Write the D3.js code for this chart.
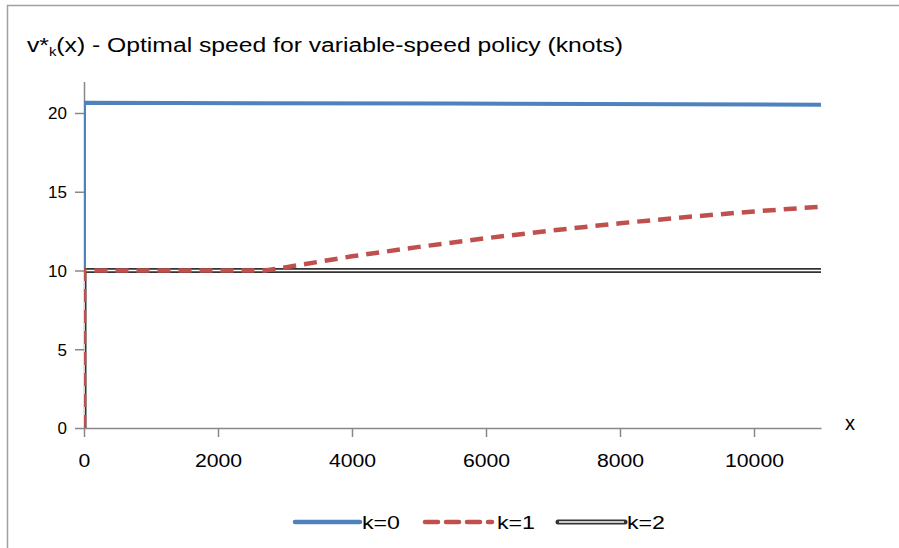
<!DOCTYPE html>
<html>
<head>
<meta charset="utf-8">
<script src="https://cdn.jsdelivr.net/npm/d3@7"></script>
<style>
  html, body { margin: 0; padding: 0; background: #fff; }
  svg { display: block; font-family: "Liberation Sans", Arial, sans-serif; }
</style>
</head>
<body>
<svg id="chart" width="899" height="548"></svg>
<script>
// ---- data ----
const seriesNames = ["k=0", "k=1", "k=2"];
const k0X = [0, 0, 5500, 11000];
const k0Y = [0, 20.65, 20.6, 20.52];
const k1X = [0, 0, 1000, 2000, 2700, 3000, 4000, 5000, 6000, 7000, 8000, 9000, 10000, 11000];
const k1Y = [0, 10, 10, 10, 10, 10.2, 10.9, 11.5, 12.05, 12.55, 13.0, 13.4, 13.75, 14.05];
const k2X = [0, 0, 11000];
const k2Y = [0, 10, 10];
const xTicks = [0, 2000, 4000, 6000, 8000, 10000];
const yTicks = [0, 5, 10, 15, 20];
const xAxisLabel = "x";

// ---- layout ----
const svg = d3.select("#chart");
const x = d3.scaleLinear().domain([0, 11000]).range([84, 821]);
const y = d3.scaleLinear().domain([0, 22]).range([428, 81.5]);

// outer border
svg.append("rect").attr("x", 7.5).attr("y", 5.5).attr("width", 1000).attr("height", 1000)
  .attr("fill", "none").attr("stroke", "#a0a0a0").attr("stroke-width", 1.5);

// title
const t = svg.append("text").attr("x", 27).attr("y", 52).attr("font-size", 20).attr("fill", "#000")
  .attr("textLength", 596).attr("lengthAdjust", "spacingAndGlyphs");
t.append("tspan").text("v*");
t.append("tspan").attr("font-size", 12).attr("dy", 4).text("k");
t.append("tspan").attr("dy", -4).text("(x) - Optimal speed for variable-speed policy (knots)");

// clip for plot area
svg.append("defs").append("clipPath").attr("id", "plotclip").append("rect")
  .attr("x", x(0)).attr("y", y(22) - 5).attr("width", x(11000) - x(0) + 5).attr("height", y(0) - y(22) + 5);

// axes
const axisColor = "#888";
const gx = svg.append("g").attr("transform", `translate(0,${y(0)})`)
  .call(d3.axisBottom(x).tickValues(xTicks).tickSize(9).tickSizeOuter(0).tickFormat(d3.format("d")));
const gy = svg.append("g").attr("transform", `translate(${x(0)},0)`)
  .call(d3.axisLeft(y).tickValues(yTicks).tickSize(9).tickSizeOuter(0));
[gx, gy].forEach(g => {
  g.select(".domain").attr("stroke", axisColor).attr("stroke-width", 1.5);
  g.selectAll(".tick line").attr("stroke", axisColor).attr("stroke-width", 1.5);
  g.selectAll(".tick text").attr("fill", "#000").attr("font-size", 17)
    .attr("font-family", "'Liberation Sans', Arial, sans-serif");
});
gx.selectAll(".tick text").attr("font-size", 18).attr("dy", "1.5em")
  .attr("textLength", d => String(d).length * 11.8).attr("lengthAdjust", "spacingAndGlyphs");
gy.selectAll(".tick text").attr("x", -17).attr("dy", "0.35em");

svg.append("text").attr("x", 850).attr("y", 430).attr("font-size", 20).attr("text-anchor", "middle").text(xAxisLabel);

// lines
const line = d3.line().x(d => x(d[0])).y(d => y(d[1]));
const k0 = k0X.map((v, i) => [v, k0Y[i]]);
const k1 = k1X.map((v, i) => [v, k1Y[i]]);
const k2 = k2X.map((v, i) => [v, k2Y[i]]);

const plot = svg.append("g").attr("clip-path", "url(#plotclip)");
plot.append("path").datum(k0).attr("d", line).attr("fill", "none")
  .attr("stroke", "#4F81BD").attr("stroke-width", 4);
plot.append("path").datum(k2).attr("d", line).attr("fill", "none")
  .attr("stroke", "#333").attr("stroke-width", 5);
plot.append("path").datum(k2).attr("d", line).attr("fill", "none")
  .attr("stroke", "#fff").attr("stroke-width", 1.6);
plot.append("path").datum(k1).attr("d", line).attr("fill", "none")
  .attr("stroke", "#C0504D").attr("stroke-width", 4.5).attr("stroke-dasharray", "13,8");

// legend
const lg = svg.append("g");
const ly = 522;
const items = [
  { x1: 295, x2: 360, tx: 362, name: seriesNames[0] },
  { x1: 425, x2: 492, tx: 497, name: seriesNames[1] },
  { x1: 558, x2: 625, tx: 627, name: seriesNames[2] }
];
lg.append("line").attr("x1", items[0].x1).attr("x2", items[0].x2).attr("y1", ly).attr("y2", ly)
  .attr("stroke", "#4F81BD").attr("stroke-width", 4.5).attr("stroke-linecap", "round");
lg.append("line").attr("x1", items[1].x1).attr("x2", items[1].x2).attr("y1", ly).attr("y2", ly)
  .attr("stroke", "#C0504D").attr("stroke-width", 4.5).attr("stroke-dasharray", "13,8").attr("stroke-linecap", "round");
lg.append("line").attr("x1", items[2].x1).attr("x2", items[2].x2).attr("y1", ly).attr("y2", ly)
  .attr("stroke", "#333").attr("stroke-width", 5).attr("stroke-linecap", "round");
lg.append("line").attr("x1", items[2].x1 + 1).attr("x2", items[2].x2 - 1).attr("y1", ly).attr("y2", ly)
  .attr("stroke", "#fff").attr("stroke-width", 1.6);
items.forEach(it => {
  lg.append("text").attr("x", it.tx).attr("y", ly + 7).attr("font-size", 19)
    .attr("textLength", 38).attr("lengthAdjust", "spacingAndGlyphs").text(it.name);
});
</script>
</body>
</html>
